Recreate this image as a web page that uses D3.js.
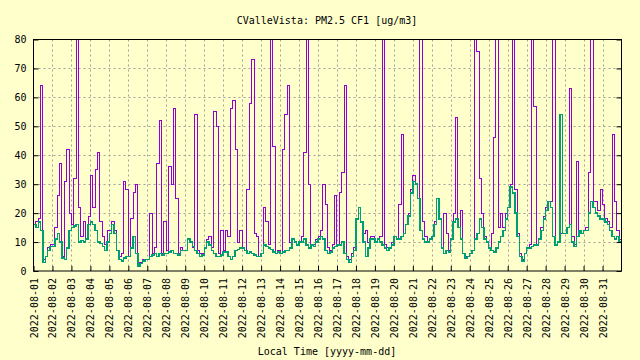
<!DOCTYPE html>
<html>
<head>
<meta charset="utf-8">
<script src="https://cdn.jsdelivr.net/npm/d3@7"></script>
<style>
  html, body { margin: 0; padding: 0; background: #ffffcc; }
  svg { display: block; }
</style>
</head>
<body>
<script>
// ---- Data (3-hour readings, 2022-08-01 00:00 .. 2022-08-31 21:00) ----
const chartTitle = "CValleVista: PM2.5 CF1 [ug/m3]";
const xAxisLabel = "Local Time [yyyy-mm-dd]";
const startTime = Date.UTC(2022, 7, 1, 0, 0);
const endTime = Date.UTC(2022, 8, 1, 0, 0);
const stepHours = 3;
const yTicks = [0, 10, 20, 30, 40, 50, 60, 70, 80];

// channel A (purple)
const seriesA = [
  16, 17, 18, 64, 4, 5, 8, 9,
  9, 15, 26, 37, 5, 31, 42, 20,
  16, 32, 85, 22, 12, 17, 11, 19,
  33, 22, 35, 41, 17, 12, 9, 14,
  14, 17, 14, 7, 5, 6, 31, 28,
  5, 18, 27, 30, 3, 3, 4, 4,
  4, 20, 6, 8, 37, 52, 6, 17,
  7, 36, 30, 56, 25, 6, 8, 7,
  7, 11, 10, 8, 54, 7, 6, 6,
  8, 11, 12, 8, 55, 50, 6, 14,
  7, 14, 12, 56, 59, 42, 10, 14,
  8, 7, 28, 58, 73, 13, 12, 5,
  6, 22, 17, 9, 85, 43, 6, 7,
  6, 42, 54, 64, 10, 11, 10, 9,
  10, 12, 41, 85, 30, 9, 9, 11,
  12, 14, 30, 23, 8, 7, 9, 26,
  9, 27, 34, 64, 5, 4, 6, 8,
  18, 22, 17, 13, 14, 10, 12, 12,
  10, 11, 12, 85, 9, 8, 8, 10,
  12, 11, 23, 47, 13, 16, 20, 28,
  33, 30, 25, 85, 17, 12, 10, 11,
  12, 17, 25, 18, 8, 20, 13, 7,
  11, 20, 53, 15, 21, 6, 5, 5,
  6, 7, 85, 76, 32, 20, 12, 10,
  8, 13, 46, 85, 15, 20, 15, 20,
  22, 30, 85, 28, 13, 6, 4, 6,
  8, 9, 85, 57, 9, 11, 15, 19,
  22, 24, 24, 85, 9, 10, 13, 13,
  13, 15, 63, 12, 9, 38, 14, 13,
  14, 15, 34, 85, 24, 24, 21, 28,
  23, 18, 17, 15, 47, 24, 14, 11
];

// channel B (green)
const seriesB = [
  16, 15, 17, 14, 3, 5, 7, 8.5,
  8.5, 11, 13, 10, 4.5, 4, 8, 14,
  15, 15.5, 16, 10, 10.5, 10, 11, 16,
  17, 16, 14, 10, 9.5, 8.5, 7, 10,
  13, 16, 13, 7, 4, 3.5, 4.5, 5,
  5, 8, 12, 6, 1.5, 2.5, 3.5, 4,
  4, 5, 5.5, 6, 5, 6, 5.5, 6,
  6, 6.5, 7, 6, 6, 5.5, 7, 7,
  7, 11, 10, 8.5, 7, 6, 5, 5.5,
  8, 10, 9, 7, 6, 5, 5, 5.5,
  6.5, 6.5, 5, 4, 5, 7, 7.5, 8,
  8, 7, 6, 6.5, 6, 5.5, 5, 5,
  6, 9, 8.5, 8, 7.5, 6.5, 6, 6.5,
  6, 6.5, 7, 7, 8, 11, 10, 9,
  10, 10, 11, 9, 8, 9, 8.5, 10,
  11, 12, 11, 7, 6, 6.5, 8, 8.5,
  9, 9, 10, 6, 4, 3, 5, 7,
  18, 22, 17, 10, 5, 8, 11, 11,
  10, 11, 10, 9, 8, 7, 8, 9,
  12, 11, 11, 12, 13, 16, 19, 27,
  31, 30, 25, 14, 11, 10, 10, 11,
  12, 16, 25, 18, 8, 6, 7, 6.5,
  11, 17, 18, 15, 11, 6, 4.5, 5,
  6, 7, 11, 13, 18, 15, 11, 10,
  8, 7, 6.5, 8, 10, 12, 14, 18,
  22, 29, 27, 20, 12, 5, 3.5, 6,
  8, 8, 8.5, 9, 9, 11, 14, 18,
  21, 24, 22, 12, 9, 10, 54, 13,
  13, 15, 16, 10, 8.5, 12, 14, 13,
  14, 14, 20, 24, 22, 20, 19, 18,
  18, 17, 16, 14, 12, 11, 12, 10
];

const colorA = "#9400d3";
const colorB = "#009e73";

// ---- Drawing ----
const W = 640, H = 360;
const plot = { left: 33.5, right: 621.5, top: 39.5, bottom: 271 };
const FONT = "'DejaVu Sans Mono', 'Liberation Mono', monospace";

const svg = d3.select("body").append("svg").attr("width", W).attr("height", H);
svg.append("rect").attr("width", W).attr("height", H).attr("fill", "#ffffcc");

const x = d3.scaleUtc().domain([new Date(startTime), new Date(endTime)]).range([plot.left, plot.right]);
const y = d3.scaleLinear().domain([0, 80]).range([plot.bottom, plot.top]);

const dayTicks = d3.utcDay.range(new Date(startTime), new Date(endTime));

// grid
const grid = svg.append("g").attr("stroke", "#a0a0a0").attr("stroke-width", 1).attr("stroke-dasharray", "2,3");
grid.selectAll("line.gy").data(yTicks.filter(v => v > 0 && v < 80)).join("line")
  .attr("x1", plot.left).attr("x2", plot.right)
  .attr("y1", d => Math.round(y(d)) + 0.5).attr("y2", d => Math.round(y(d)) + 0.5);
grid.selectAll("line.gx").data(dayTicks.slice(1)).join("line")
  .attr("x1", d => Math.round(x(d)) + 0.5).attr("x2", d => Math.round(x(d)) + 0.5)
  .attr("y1", plot.top).attr("y2", plot.bottom);

// series
const toPoints = arr => {
  const pts = arr.map((v, i) => ({ t: new Date(startTime + i * stepHours * 3600e3), v }));
  pts.push({ t: new Date(endTime), v: arr[arr.length - 1] });
  return pts;
};
svg.append("clipPath").attr("id", "clip").append("rect")
  .attr("x", plot.left).attr("y", plot.top)
  .attr("width", plot.right - plot.left).attr("height", plot.bottom - plot.top);

const line = d3.line().curve(d3.curveStepAfter).x(d => x(d.t)).y(d => y(d.v));
const lines = svg.append("g").attr("clip-path", "url(#clip)").attr("shape-rendering", "crispEdges");
lines.append("path").datum(toPoints(seriesA)).attr("d", line)
  .attr("fill", "none").attr("stroke", colorA).attr("stroke-width", 1);
lines.append("path").datum(toPoints(seriesB)).attr("d", line)
  .attr("fill", "none").attr("stroke", colorB).attr("stroke-width", 1.4);

// axes
const yAxis = d3.axisLeft(y).tickValues(yTicks).tickSizeInner(-5).tickSizeOuter(0).tickPadding(7);
const gy = svg.append("g").attr("transform", `translate(${plot.left},0)`).call(yAxis);
const yAxisR = d3.axisRight(y).tickValues(yTicks).tickSizeInner(-5).tickSizeOuter(0).tickFormat("");
const gyr = svg.append("g").attr("transform", `translate(${plot.right},0)`).call(yAxisR);
const xAxis = d3.axisBottom(x).tickValues(dayTicks).tickSizeInner(-5).tickSizeOuter(0)
  .tickFormat(d3.utcFormat("%Y-%m-%d"));
const gx = svg.append("g").attr("transform", `translate(0,${plot.bottom})`).call(xAxis);

[gy, gyr, gx].forEach(g => {
  g.select(".domain").remove();
  g.selectAll(".tick line").attr("stroke", "#000");
  g.selectAll("text").attr("font-family", FONT).attr("font-size", 10).attr("fill", "#000");
});
gx.selectAll(".tick text")
  .attr("transform", "rotate(-90)")
  .attr("text-anchor", "end")
  .attr("x", -7).attr("y", 0).attr("dy", "0.35em");

// border
svg.append("rect").attr("x", plot.left).attr("y", plot.top)
  .attr("width", plot.right - plot.left).attr("height", plot.bottom - plot.top)
  .attr("fill", "none").attr("stroke", "#000").attr("stroke-width", 1);

// titles
svg.append("text").attr("x", 327).attr("y", 23.5).attr("text-anchor", "middle")
  .attr("font-family", FONT).attr("font-size", 10).text(chartTitle);
svg.append("text").attr("x", 327).attr("y", 355).attr("text-anchor", "middle")
  .attr("font-family", FONT).attr("font-size", 10).text(xAxisLabel);
</script>
</body>
</html>
